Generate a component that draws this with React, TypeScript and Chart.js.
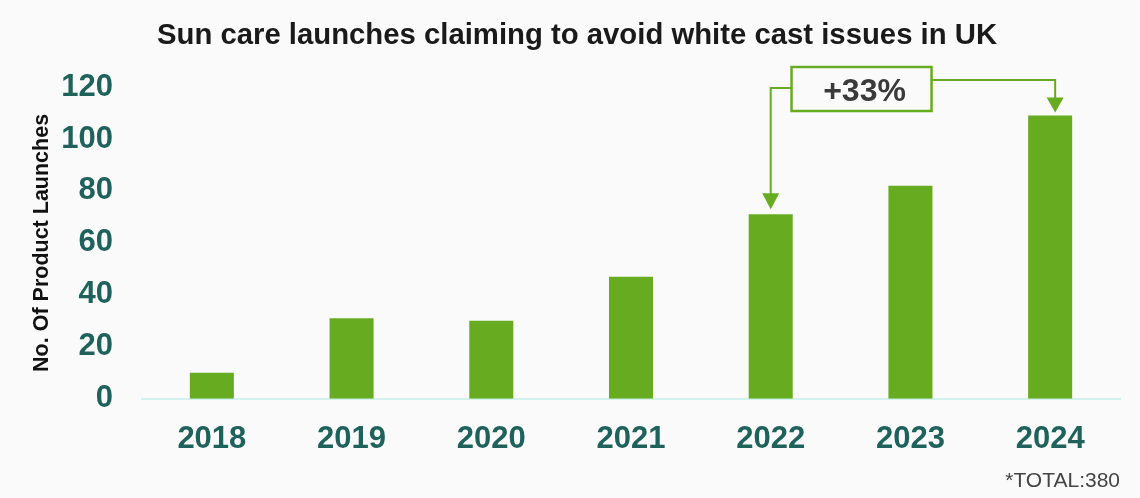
import React, { useEffect, useRef } from "react";
import { Chart, registerables } from "chart.js";

Chart.register(...registerables);

const categories = ["2018", "2019", "2020", "2021", "2022", "2023", "2024"];
const launches = [10, 31, 30, 47, 71, 82, 109];
const yTicks = [0, 20, 40, 60, 80, 100, 120];
const growthLabel = "+33%";
const totalLabel = "*TOTAL:380";
const chartTitle = "Sun care launches claiming to avoid white cast issues in UK";
const yTitle = "No. Of Product Launches";

const GREEN = "#66ab20";
const TEAL = "#1f615b";
const FONT = "Arial, 'Liberation Sans', sans-serif";

const annotationPlugin = {
  id: "growthAnnotation",
  afterDraw(chart: any) {
    const { ctx, scales } = chart;
    const xs = scales.x;
    const ys = scales.y;
    const x4 = xs.getPixelForValue(4);
    const x5 = xs.getPixelForValue(5);
    const x6 = xs.getPixelForValue(6);
    const top4 = ys.getPixelForValue(launches[4]);
    const top6 = ys.getPixelForValue(launches[6]);
    const y120 = ys.getPixelForValue(120);

    // title
    ctx.save();
    ctx.fillStyle = "#1a1a1a";
    ctx.font = `bold 29.3px ${FONT}`;
    ctx.textAlign = "center";
    ctx.textBaseline = "middle";
    ctx.fillText(chartTitle, 577, 36);
    ctx.restore();

    const boxCx = x4 + 0.65 * (x5 - x4);
    const boxW = 140;
    const boxH = 44;
    const boxL = boxCx - boxW / 2;
    const boxR = boxCx + boxW / 2;
    const boxT = y120 - 20;

    ctx.save();
    ctx.strokeStyle = GREEN;
    ctx.fillStyle = GREEN;
    ctx.lineWidth = 2;

    // left connector
    const ly = boxT + 21;
    ctx.beginPath();
    ctx.moveTo(boxL, ly);
    ctx.lineTo(x4, ly);
    ctx.lineTo(x4, top4 - 20);
    ctx.stroke();
    ctx.beginPath();
    ctx.moveTo(x4 - 8.5, top4 - 21);
    ctx.lineTo(x4 + 8.5, top4 - 21);
    ctx.lineTo(x4, top4 - 5);
    ctx.closePath();
    ctx.fill();

    // right connector
    const rx = x6 + 5;
    const ry = boxT + 13;
    ctx.beginPath();
    ctx.moveTo(boxR, ry);
    ctx.lineTo(rx, ry);
    ctx.lineTo(rx, top6 - 17);
    ctx.stroke();
    ctx.beginPath();
    ctx.moveTo(rx - 8.5, top6 - 18);
    ctx.lineTo(rx + 8.5, top6 - 18);
    ctx.lineTo(rx, top6 - 3);
    ctx.closePath();
    ctx.fill();

    // box
    ctx.fillStyle = "#fafafa";
    ctx.fillRect(boxL, boxT, boxW, boxH);
    ctx.lineWidth = 2.5;
    ctx.strokeRect(boxL, boxT, boxW, boxH);

    ctx.fillStyle = "#3a3a3a";
    ctx.font = `bold 32px ${FONT}`;
    ctx.textAlign = "center";
    ctx.textBaseline = "middle";
    ctx.fillText(growthLabel, boxCx + 3, boxT + boxH / 2 + 3);

    // footnote
    ctx.fillStyle = "#444444";
    ctx.font = `21px ${FONT}`;
    ctx.textAlign = "right";
    ctx.textBaseline = "middle";
    ctx.fillText(totalLabel, chart.chartArea.right, 481);
    ctx.restore();
  },
};

export default function App() {
  const ref = useRef<HTMLCanvasElement | null>(null);

  useEffect(() => {
    if (!ref.current) return;
    const chart = new Chart(ref.current, {
      type: "bar",
      data: {
        labels: categories,
        datasets: [
          {
            data: launches,
            backgroundColor: GREEN,
            borderWidth: 0,
            barPercentage: 0.315,
            categoryPercentage: 1,
          },
        ],
      },
      options: {
        animation: false,
        responsive: true,
        maintainAspectRatio: false,
        layout: { padding: { left: 0, right: 20, top: 87, bottom: 18 } },
        plugins: {
          legend: { display: false },
          tooltip: { enabled: false },
          title: { display: false },
        },
        scales: {
          x: {
            grid: { display: false, drawTicks: false },
            border: { display: true, color: "#d3f1ee", width: 2 },
            ticks: {
              color: TEAL,
              font: { family: FONT, size: 31, weight: "bold" },
              padding: 22,
            },
          },
          y: {
            min: 0,
            max: 120,
            afterFit(scale: any) {
              scale.width = 142;
            },
            afterBuildTicks(scale: any) {
              scale.ticks = yTicks.map((v) => ({ value: v }));
            },
            grid: { display: false, drawTicks: false },
            border: { display: false },
            ticks: {
              color: TEAL,
              font: { family: FONT, size: 31, weight: "bold" },
              padding: 29,
            },
            title: {
              display: true,
              text: yTitle,
              color: "#111111",
              font: { family: FONT, size: 21.5, weight: "bold" },
              padding: { top: 29, bottom: 0 },
            },
          },
        },
      },
      plugins: [annotationPlugin],
    });
    return () => chart.destroy();
  }, []);

  return (
    <div
      style={{
        position: "absolute",
        left: 0,
        top: 0,
        width: 1140,
        height: 498,
        background: "#fafafa",
      }}
    >
      <canvas ref={ref} />
    </div>
  );
}
